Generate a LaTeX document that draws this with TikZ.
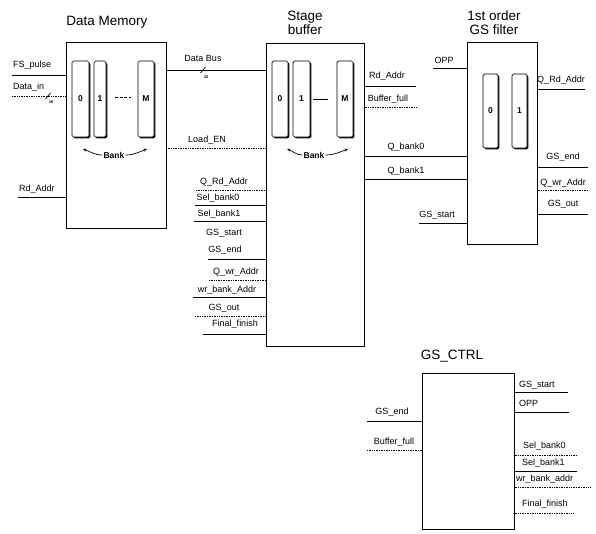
\documentclass[tikz,border=0pt]{standalone}
\usepackage{fontspec}
\setmainfont{Liberation Sans}
\usetikzlibrary{shadows,arrows.meta}
\begin{document}
\begin{tikzpicture}[x=1pt,y=-1pt,
  blk/.style={draw, line width=0.7pt, inner sep=0pt, anchor=north west},
  bank/.style={draw, line width=0.7pt, fill=white, rounded corners=1.5pt, inner sep=0pt,
    font=\fontsize{8.5}{9}\selectfont\bfseries,
    drop shadow={shadow xshift=1.3pt, shadow yshift=-1.3pt, fill=black, opacity=1}},
  ttl/.style={font=\fontsize{13.5}{15}\selectfont, inner sep=0pt, align=center},
  lbl/.style={font=\fontsize{9}{10}\selectfont, inner sep=0pt},
  bk/.style={font=\fontsize{8.5}{9}\selectfont\bfseries, inner sep=1pt},
  sig/.style={line width=0.7pt},
  dsig/.style={line width=0.7pt, densely dotted},
  tinyl/.style={font=\fontsize{4}{5}\selectfont\bfseries, inner sep=0pt},
  barr/.style={line width=0.7pt, -{Stealth[length=3.5pt,width=3pt]}},
]
\useasboundingbox (0,0) rectangle (596,533);

% ---------- blocks ----------
\node[blk, minimum width=100, minimum height=186] (dm) at (66,42) {};
\node[blk, minimum width=98, minimum height=303] (sb) at (266,43) {};
\node[blk, minimum width=70, minimum height=202] (gf) at (467,42) {};
\node[blk, minimum width=92, minimum height=156] (ctrl) at (422,373) {};

% ---------- titles ----------
\node[ttl] (tdm) at (107,22) {Data Memory};
\node[ttl] (tsb) at (305,23) {Stage\\[-1pt]buffer};
\node[ttl] (tgf) at (494,23) {1st order\\[-1pt]GS filter};
\node[ttl] (tct) at (452,356) {GS\_CTRL};

% ---------- banks ----------
\node[bank, minimum width=17, minimum height=76] (dm0) at (80.5,99) {0};
\node[bank, minimum width=12, minimum height=76] (dm1) at (100,99) {1};
\node[bank, minimum width=16, minimum height=76] (dmM) at (146,99) {M};
\draw[sig, dash pattern=on 3pt off 1.5pt] (115,97) -- (131,97);

\node[bank, minimum width=16, minimum height=76] (sb0) at (280,99) {0};
\node[bank, minimum width=17, minimum height=76] (sb1) at (301.5,99) {1};
\node[bank, minimum width=16, minimum height=76] (sbM) at (345,99) {M};
\draw[sig] (313,99) -- (328,99);

\node[bank, minimum width=15, minimum height=74] (gf0) at (490.5,111) {0};
\node[bank, minimum width=15, minimum height=74] (gf1) at (519.5,111) {1};

% bank labels
\node[bk] (dmbk) at (114,155) {Bank};
\coordinate (dmbkL) at (83,149);
\coordinate (dmbkR) at (147,149);
\draw[barr] (dmbk.west) to[out=180,in=-20] (dmbkL);
\draw[barr] (dmbk.east) to[out=0,in=200] (dmbkR);

\node[bk] (sbbk) at (314,155) {Bank};
\coordinate (sbbkL) at (287,149);
\coordinate (sbbkR) at (348,149);
\draw[barr] (sbbk.west) to[out=180,in=-20] (sbbkL);
\draw[barr] (sbbk.east) to[out=0,in=200] (sbbkR);

% ---------- Data Memory inputs ----------
\coordinate (fsL) at (12,75);
\draw[sig] (fsL) -- (fsL -| dm.west);
\node[lbl, anchor=west] (lfs) at (13,65) {FS\_pulse};

\coordinate (dinL) at (12,96);
\draw[dsig] (dinL) -- (dinL -| dm.west);
\node[lbl, anchor=west] (ldin) at (13,87) {Data\_in};
\coordinate (dinS) at (48,96);
\draw[sig] ([shift={(-2.5,3)}]dinS) -- ([shift={(2.5,-3)}]dinS);
\node[tinyl] (l16) at (51,102) {16};

\coordinate (rdL) at (18,197);
\draw[sig] (rdL) -- (rdL -| dm.west);
\node[lbl, anchor=west] (lrd) at (19,189) {Rd\_Addr};

% ---------- Data Memory -> Stage buffer ----------
\coordinate (dbA) at (166,70);
\draw[sig] (dbA) -- (dbA -| sb.west);
\node[lbl] (ldb) at (203,58) {Data Bus};
\coordinate (dbS) at (203,70);
\draw[sig] ([shift={(-2.5,3)}]dbS) -- ([shift={(2.5,-3)}]dbS);
\node[tinyl] (l32) at (206,77) {32};

\coordinate (leA) at (166,148);
\draw[dsig] (leA) -- (leA -| sb.west);
\node[lbl] (lle) at (207,140) {Load\_EN};

% ---------- Stage buffer left inputs ----------
\coordinate (qrdL) at (196,190);
\draw[dsig] (qrdL) -- (qrdL -| sb.west);
\node[lbl] (lqrd) at (224,182) {Q\_Rd\_Addr};

\coordinate (sb0L) at (195,205);
\draw[sig] (sb0L) -- (sb0L -| sb.west);
\node[lbl] (lsb0) at (218,198) {Sel\_bank0};

\coordinate (sb1L) at (194,221);
\draw[sig] (sb1L) -- (sb1L -| sb.west);
\node[lbl] (lsb1) at (219,214) {Sel\_bank1};

\node[lbl] (lgss) at (224,233) {GS\_start};

\coordinate (gseL) at (208,259);
\draw[sig] (gseL) -- (gseL -| sb.west);
\node[lbl] (lgse) at (225,250) {GS\_end};

\coordinate (qwrL) at (209,280);
\draw[dsig] (qwrL) -- (qwrL -| sb.west);
\node[lbl] (lqwr) at (236,272) {Q\_wr\_Addr};

\coordinate (wbL) at (193,297);
\draw[sig] (wbL) -- (wbL -| sb.west);
\node[lbl] (lwb) at (227,290) {wr\_bank\_Addr};

\coordinate (gsoL) at (195,316);
\draw[dsig] (gsoL) -- (gsoL -| sb.west);
\node[lbl] (lgso) at (224,308) {GS\_out};

\coordinate (ffL) at (203,334);
\draw[sig] (ffL) -- (ffL -| sb.west);
\node[lbl] (lff) at (235,324) {Final\_finish};

% ---------- Stage buffer right ----------
\coordinate (srdR) at (416,86);
\draw[sig] (sb.east |- srdR) -- (srdR);
\node[lbl] (lsrd) at (387,76) {Rd\_Addr};

\coordinate (bfR) at (416,107);
\draw[dsig] (sb.east |- bfR) -- (bfR);
\node[lbl] (lbf) at (388,99) {Buffer\_full};

\coordinate (qb0) at (364,156);
\draw[sig] (qb0) -- (qb0 -| gf.west);
\node[lbl] (lqb0) at (406,147) {Q\_bank0};

\coordinate (qb1) at (364,179);
\draw[sig] (qb1) -- (qb1 -| gf.west);
\node[lbl] (lqb1) at (406,171) {Q\_bank1};

% ---------- GS filter left ----------
\coordinate (oppL) at (433,68);
\draw[sig] (oppL) -- (oppL -| gf.west);
\node[lbl] (lopp) at (444,60) {OPP};

\coordinate (gssL) at (419,223);
\draw[sig] (gssL) -- (gssL -| gf.west);
\node[lbl] (lgssf) at (437,215) {GS\_start};

% ---------- GS filter right ----------
\coordinate (fqrdR) at (585,89);
\draw[sig] (gf.east |- fqrdR) -- (fqrdR);
\node[lbl] (lfqrd) at (561,80) {Q\_Rd\_Addr};

\coordinate (fgseR) at (588,167);
\draw[sig] (gf.east |- fgseR) -- (fgseR);
\node[lbl] (lfgse) at (563,157) {GS\_end};

\coordinate (fqwrR) at (588,190);
\draw[dsig] (gf.east |- fqwrR) -- (fqwrR);
\node[lbl] (lfqwr) at (563,183) {Q\_wr\_Addr};

\coordinate (fgsoR) at (588,214);
\draw[sig] (gf.east |- fgsoR) -- (fgsoR);
\node[lbl] (lfgso) at (563,204) {GS\_out};

% ---------- GS_CTRL left ----------
\coordinate (cgseL) at (367,421);
\draw[sig] (cgseL) -- (cgseL -| ctrl.west);
\node[lbl] (lcgse) at (392,412) {GS\_end};

\coordinate (cbfL) at (367,450);
\draw[dsig] (cbfL) -- (cbfL -| ctrl.west);
\node[lbl] (lcbf) at (394,442) {Buffer\_full};

% ---------- GS_CTRL right ----------
\coordinate (cgssR) at (568,392);
\draw[sig] (ctrl.east |- cgssR) -- (cgssR);
\node[lbl, anchor=west] (lcgss) at (519,385) {GS\_start};

\coordinate (coppR) at (569,412);
\draw[sig] (ctrl.east |- coppR) -- (coppR);
\node[lbl, anchor=west] (lcopp) at (519,403) {OPP};

\coordinate (cs0R) at (577,455);
\draw[dsig] (ctrl.east |- cs0R) -- (cs0R);
\node[lbl, anchor=west] (lcs0) at (523,446) {Sel\_bank0};

\coordinate (cs1R) at (577,471);
\draw[sig] (ctrl.east |- cs1R) -- (cs1R);
\node[lbl, anchor=west] (lcs1) at (522,463) {Sel\_bank1};

\coordinate (cwbR) at (590,487);
\draw[dsig] (ctrl.east |- cwbR) -- (cwbR);
\node[lbl, anchor=west] (lcwb) at (516,479) {wr\_bank\_addr};

\coordinate (cffR) at (573,513);
\draw[dsig] (ctrl.east |- cffR) -- (cffR);
\node[lbl, anchor=west] (lcff) at (522,504) {Final\_finish};

\end{tikzpicture}
\end{document}
